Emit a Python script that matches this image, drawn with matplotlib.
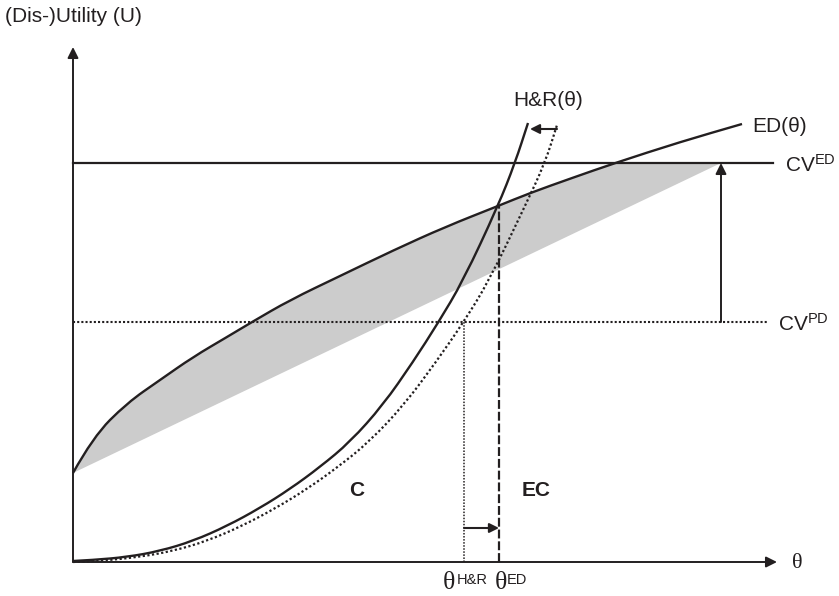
import numpy as np
import matplotlib
matplotlib.use("Agg")
import matplotlib.pyplot as plt
from matplotlib.path import Path
from matplotlib.patches import PathPatch

plt.rcParams["font.family"] = ["Liberation Sans", "DejaVu Sans"]
plt.rcParams["mathtext.default"] = "regular"

# curves (theta, U) in arbitrary units, origin at the axes corner
ED_THETA = [0, 20, 54, 87, 120, 154, 179, 217, 267, 321, 372, 425, 457, 499, 542, 607, 669]
ED_U = [89, 125, 159, 182, 205, 225, 240, 262, 286, 312, 335, 356, 369, 384, 399, 420, 438]

HR_THETA = [0, 20, 54, 87, 120, 154, 187, 217, 247, 277, 310, 340, 365, 390, 425, 442, 455]
HR_U = [1, 2, 5, 11, 21, 36, 54, 73, 95, 120, 157, 200, 239, 281, 356, 399, 439]

HR_OLD_THETA = [0, 27, 66, 100, 134, 169, 203, 234, 265, 296, 331, 363, 390, 416, 452, 472, 484]
HR_OLD_U = [0, 1, 5, 11, 21, 36, 54, 73, 95, 120, 157, 200, 239, 281, 356, 399, 437]

CV_ED = 399
CV_PD = 240
THETA_HR = 391
THETA_ED = 426
CV_ARROW_THETA = 648

INK = "#231f20"


def smooth(xs, ys):
    """Quadratic bezier through the midpoints of the read-off points."""
    pts = np.column_stack([xs, ys]).astype(float)
    verts = [pts[0]]
    codes = [Path.MOVETO]
    for i in range(1, len(pts) - 1):
        verts += [pts[i], (pts[i] + pts[i + 1]) / 2]
        codes += [Path.CURVE3, Path.CURVE3]
    verts.append(pts[-1])
    codes.append(Path.LINETO)
    return verts, codes


fig = plt.figure(figsize=(8.39, 5.96), dpi=100)
ax = fig.add_axes([0, 0, 1, 1])
ax.set_xlim(-73, 766)
ax.set_ylim(-34, 562)
ax.axis("off")

# shaded wedge between ED (capped at CV^ED) and the straight line to the CV arrow
ed_t = np.array(ED_THETA)
ed_u = np.array(ED_U)
keep = ed_t <= 542
v, c = smooth(ed_t[keep], ed_u[keep])
v = v + [(CV_ARROW_THETA, CV_ED), (ED_THETA[0], ED_U[0])]
c = c + [Path.LINETO, Path.CLOSEPOLY]
ax.add_patch(PathPatch(Path(v, c), facecolor="#cccccc", edgecolor="none", zorder=1))

# axes with arrow heads
arrow_kw = dict(arrowstyle="-|>", color=INK, lw=1.4, mutation_scale=16,
                shrinkA=0, shrinkB=0)
ax.annotate("", xy=(0, 515), xytext=(0, 0), arrowprops=arrow_kw)
ax.annotate("", xy=(704, 0), xytext=(0, 0), arrowprops=arrow_kw)

# CV levels
ax.plot([0, 700], [CV_ED, CV_ED], color=INK, lw=1.6, zorder=2)
ax.plot([0, 695], [CV_PD, CV_PD], color=INK, lw=1.5, ls=(0, (1, 1)), zorder=2)
ax.annotate("", xy=(CV_ARROW_THETA, CV_ED), xytext=(CV_ARROW_THETA, CV_PD),
            arrowprops=arrow_kw)

# curves
for xs, ys, ls, lw in [(ED_THETA, ED_U, "-", 1.7),
                       (HR_THETA, HR_U, "-", 1.7),
                       (HR_OLD_THETA, HR_OLD_U, (0, (1, 1.1)), 1.6)]:
    v, c = smooth(xs, ys)
    ax.add_patch(PathPatch(Path(v, c), facecolor="none", edgecolor=INK,
                           lw=lw, ls=ls, zorder=3))

# theta markers
ax.plot([THETA_HR, THETA_HR], [0, CV_PD], color=INK, lw=1.1, ls=(0, (1, 1)), zorder=2)
ax.plot([THETA_ED, THETA_ED], [0, 356], color=INK, lw=1.6, ls=(0, (4, 1.3)), zorder=2)

small_arrow = dict(arrowstyle="-|>", color=INK, lw=1.5, mutation_scale=14,
                   shrinkA=0, shrinkB=0)
ax.annotate("", xy=(THETA_ED, 34), xytext=(THETA_HR, 34), arrowprops=small_arrow)
ax.annotate("", xy=(457, 433), xytext=(484, 433), arrowprops=small_arrow)

# labels
fs = 15
ax.text(-68, 545, "(Dis-)Utility (U)", fontsize=fs, ha="left", va="center", color=INK)
ax.text(475, 461, "H&R(θ)", fontsize=fs, ha="center", va="center", color=INK)
ax.text(679, 435, "ED(θ)", fontsize=fs, ha="left", va="center", color=INK)
ax.text(712, 397, r"CV$^{ED}$", fontsize=fs, ha="left", va="center", color=INK)
ax.text(705, 238, r"CV$^{PD}$", fontsize=fs, ha="left", va="center", color=INK)
ax.text(724, -1, "θ", fontsize=16, ha="center", va="center", color=INK,
        family="Liberation Serif")

ax.text(370, -21, "θ", fontsize=18.5, ha="left", va="center", color=INK,
        family="Liberation Serif")
ax.text(384, -11, "H&R", fontsize=10.5, ha="left", va="top", color=INK)
ax.text(422, -21, "θ", fontsize=18.5, ha="left", va="center", color=INK,
        family="Liberation Serif")
ax.text(434, -11, "ED", fontsize=10.5, ha="left", va="top", color=INK)

ax.text(284, 72, "C", fontsize=15, weight="bold", ha="center", va="center", color=INK)
ax.text(463, 72, "EC", fontsize=15, weight="bold", ha="center", va="center", color=INK)

fig.savefig("out.png", dpi=100)
